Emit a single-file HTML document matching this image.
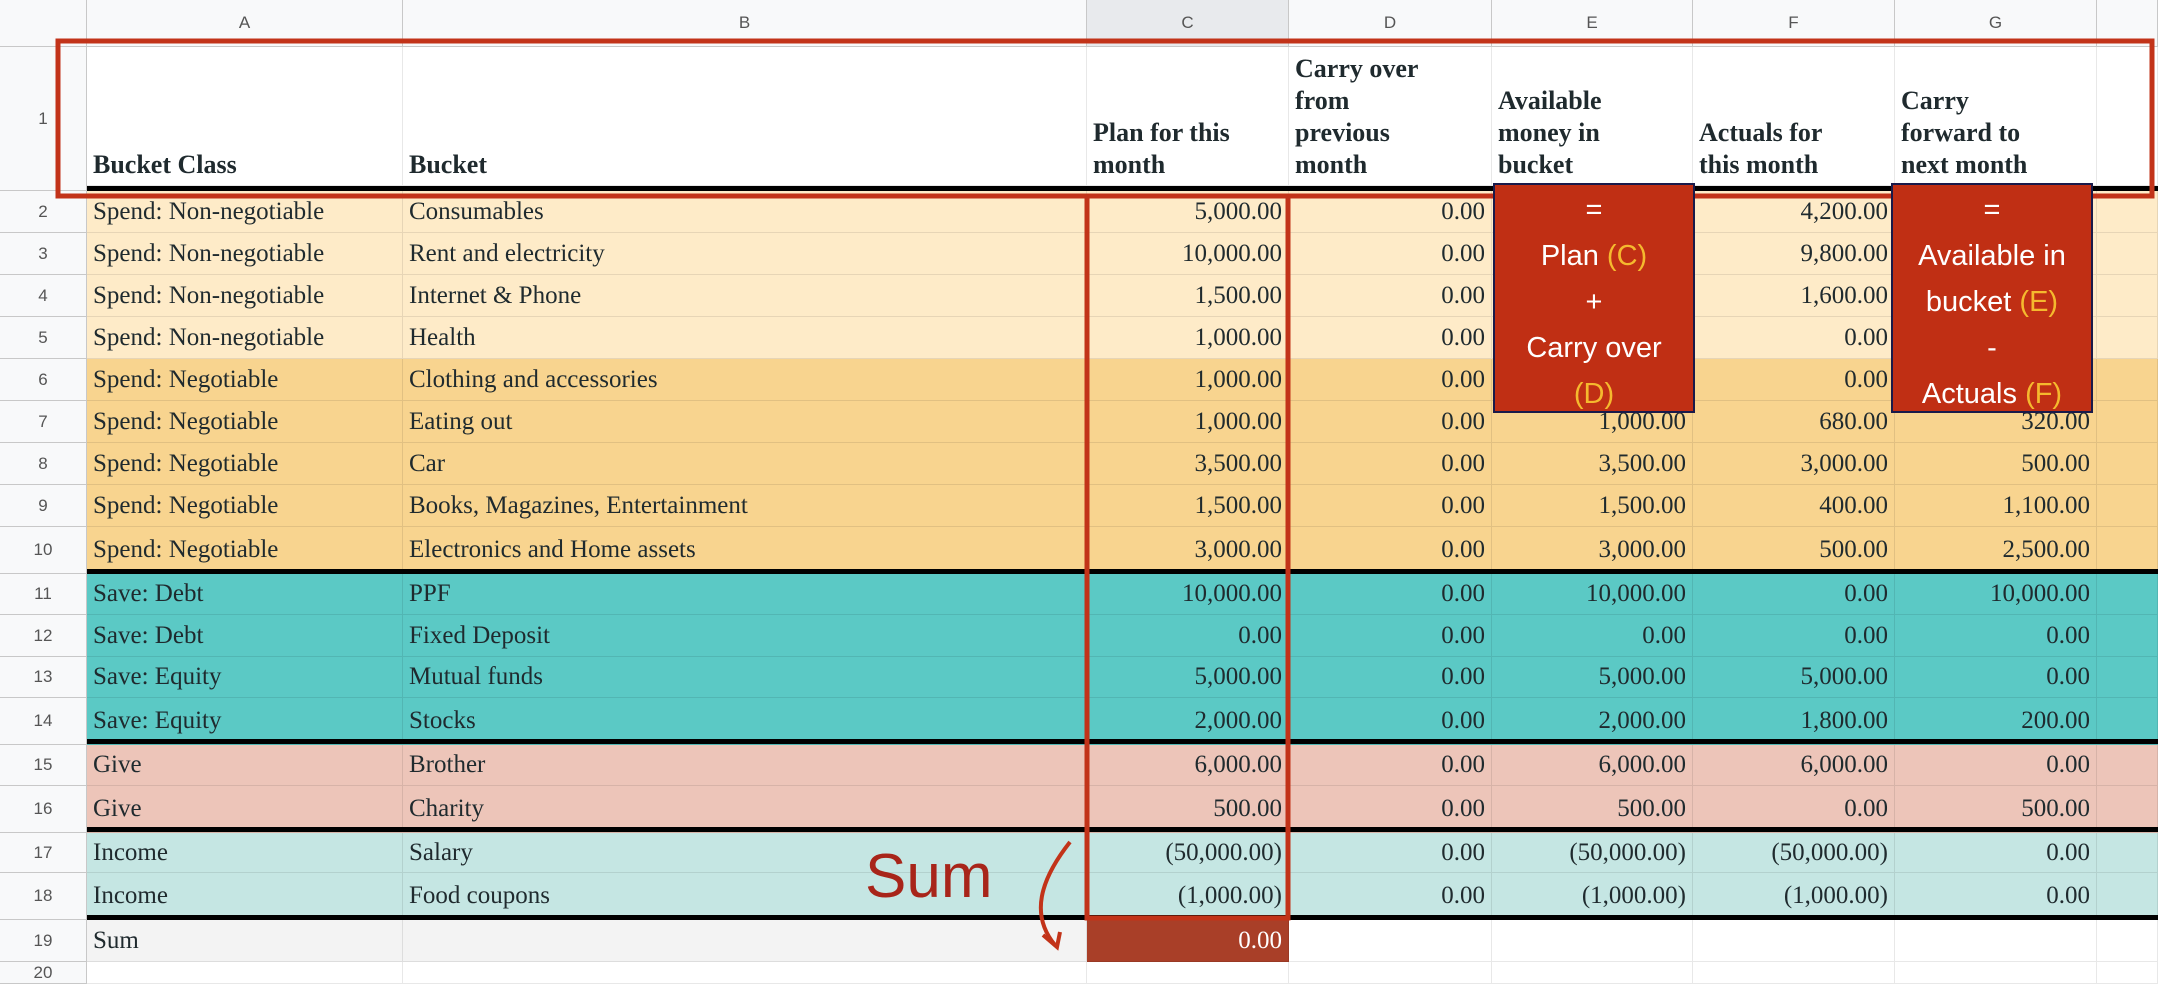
<!DOCTYPE html>
<html><head><meta charset="utf-8">
<style>
html,body{margin:0;padding:0;background:#fff;}
#sheet{position:relative;width:2158px;height:984px;overflow:hidden;background:#fff;font-family:"Liberation Serif",serif;color:#1f2a2e;}
.c{position:absolute;box-sizing:border-box;border-right:1px solid rgba(0,0,0,0.09);border-bottom:1px solid rgba(0,0,0,0.09);font-size:25px;white-space:nowrap;overflow:hidden;padding:0 6px;display:flex;align-items:center;}
.r{justify-content:flex-end;}
.hd{position:absolute;box-sizing:border-box;background:#f8f9fa;border-right:1px solid #c8c8c8;border-bottom:1px solid #c8c8c8;font-family:"Liberation Sans",sans-serif;color:#555;font-size:17px;display:flex;align-items:center;justify-content:center;}
.h1{font-weight:bold;align-items:flex-end;padding-bottom:4px;line-height:32px;white-space:nowrap;font-size:26px;}
.thick{position:absolute;left:87px;width:2071px;height:5px;background:#000;}
.box{position:absolute;box-sizing:border-box;background:#c02f14;border:2px solid #1a1a4a;color:#fff;font-family:"Liberation Sans",sans-serif;font-size:29px;text-align:center;line-height:46px;padding-top:2px;}
.y{color:#f5b92e;}
</style></head>
<body>
<div id="sheet"></div>
<script>
const colLetters=["A","B","C","D","E","F","G",""];
const colX=[87,403,1087,1289,1492,1693,1895,2097,2158];
const headers=["Bucket Class","Bucket","Plan for this\nmonth","Carry over\nfrom\nprevious\nmonth","Available\nmoney in\nbucket","Actuals for\nthis month","Carry\nforward to\nnext month",""];
const bucketClass=["Spend: Non-negotiable","Spend: Non-negotiable","Spend: Non-negotiable","Spend: Non-negotiable","Spend: Negotiable","Spend: Negotiable","Spend: Negotiable","Spend: Negotiable","Spend: Negotiable","Save: Debt","Save: Debt","Save: Equity","Save: Equity","Give","Give","Income","Income","Sum"];
const buckets=["Consumables","Rent and electricity","Internet & Phone","Health","Clothing and accessories","Eating out","Car","Books, Magazines, Entertainment","Electronics and Home assets","PPF","Fixed Deposit","Mutual funds","Stocks","Brother","Charity","Salary","Food coupons",""];
const plan=["5,000.00","10,000.00","1,500.00","1,000.00","1,000.00","1,000.00","3,500.00","1,500.00","3,000.00","10,000.00","0.00","5,000.00","2,000.00","6,000.00","500.00","(50,000.00)","(1,000.00)","0.00"];
const carry=["0.00","0.00","0.00","0.00","0.00","0.00","0.00","0.00","0.00","0.00","0.00","0.00","0.00","0.00","0.00","0.00","0.00",""];
const avail=["5,000.00","10,000.00","1,500.00","1,000.00","1,000.00","1,000.00","3,500.00","1,500.00","3,000.00","10,000.00","0.00","5,000.00","2,000.00","6,000.00","500.00","(50,000.00)","(1,000.00)",""];
const actuals=["4,200.00","9,800.00","1,600.00","0.00","0.00","680.00","3,000.00","400.00","500.00","0.00","0.00","5,000.00","1,800.00","6,000.00","0.00","(50,000.00)","(1,000.00)",""];
const fwd=["800.00","200.00","-100.00","1,000.00","1,000.00","320.00","500.00","1,100.00","2,500.00","10,000.00","0.00","0.00","200.00","0.00","500.00","0.00","0.00",""];
const rowTops=[191,233,275,317,359,401,443,485,527,574,615,657,698,745,786,833,873,920,962];
const rowBg=["#feebc8","#feebc8","#feebc8","#feebc8","#f8d48f","#f8d48f","#f8d48f","#f8d48f","#f8d48f","#5bc9c5","#5bc9c5","#5bc9c5","#5bc9c5","#edc5b9","#edc5b9","#c5e6e3","#c5e6e3","#f3f3f3"];
const thickY=[186,569,739,827,915];
const S=document.getElementById('sheet');
function mk(cls,x,y,w,h,txt){const d=document.createElement('div');d.className=cls;d.style.left=x+'px';d.style.top=y+'px';d.style.width=w+'px';d.style.height=h+'px';if(txt!==undefined){const s=document.createElement('span');s.style.whiteSpace='pre';s.textContent=txt;d.appendChild(s);}S.appendChild(d);return d;}
let e=mk('hd',0,0,87,47);


for(let i=0;i<8;i++){
  e=mk('hd',colX[i],0,colX[i+1]-colX[i],47,colLetters[i]);
  if(i===2)e.style.background='#e8eaed';
  
  
}
const allTops=[47].concat(rowTops);
for(let r=0;r<allTops.length;r++){
  const h=(r<allTops.length-1?allTops[r+1]:984)-allTops[r];
  e=mk('hd',0,allTops[r],87,h,String(r+1));
  
  
}
for(let i=0;i<8;i++){
  e=mk('c h1',colX[i],47,colX[i+1]-colX[i],139,headers[i]);
  
  
}
const cols=[bucketClass,buckets,plan,carry,avail,actuals,fwd];
for(let r=0;r<rowTops.length-1;r++){
  const y=rowTops[r];
  let h=rowTops[r+1]-y;
  for(let i=0;i<8;i++){
    const txt=i<7?cols[i][r]:'';
    e=mk('c'+(i>=2?' r':''),colX[i],y,colX[i+1]-colX[i],h,txt);
    e.style.background=rowBg[r];
    if(r===17&&i===2){e.style.background='#a93f28';e.style.color='#fff';}
    if(r===17&&i>2){e.style.background='#fff';}
    
    
  }
}
for(let i=0;i<8;i++){
  e=mk('c',colX[i],962,colX[i+1]-colX[i],22,'');
  
  
}
for(const y of thickY){
  e=mk('thick',87,y,2071,5);
  
  
}
</script>
<svg width="2158" height="984" style="position:absolute;left:0;top:0;pointer-events:none">
<rect x="58" y="41" width="2094" height="155" fill="none" stroke="#c23319" stroke-width="5"/>
<rect x="1087" y="196" width="201" height="722" fill="none" stroke="#c23319" stroke-width="5"/>
<text x="865" y="897" font-family="Liberation Sans, sans-serif" font-size="62" fill="#a8251a">Sum</text>
<path d="M1070,842 C1040,880 1030,915 1055,945" fill="none" stroke="#c23319" stroke-width="4"/>
<path d="M1043,935 L1057,947 L1060,932" fill="none" stroke="#c23319" stroke-width="4"/>
</svg>
<div class="box" style="left:1493px;top:183px;width:202px;height:230px;">=<br>Plan <span class="y">(C)</span><br>+<br>Carry over<br><span class="y">(D)</span></div>
<div class="box" style="left:1891px;top:183px;width:202px;height:230px;">=<br>Available in<br>bucket <span class="y">(E)</span><br>-<br>Actuals <span class="y">(F)</span></div>
</body></html>
